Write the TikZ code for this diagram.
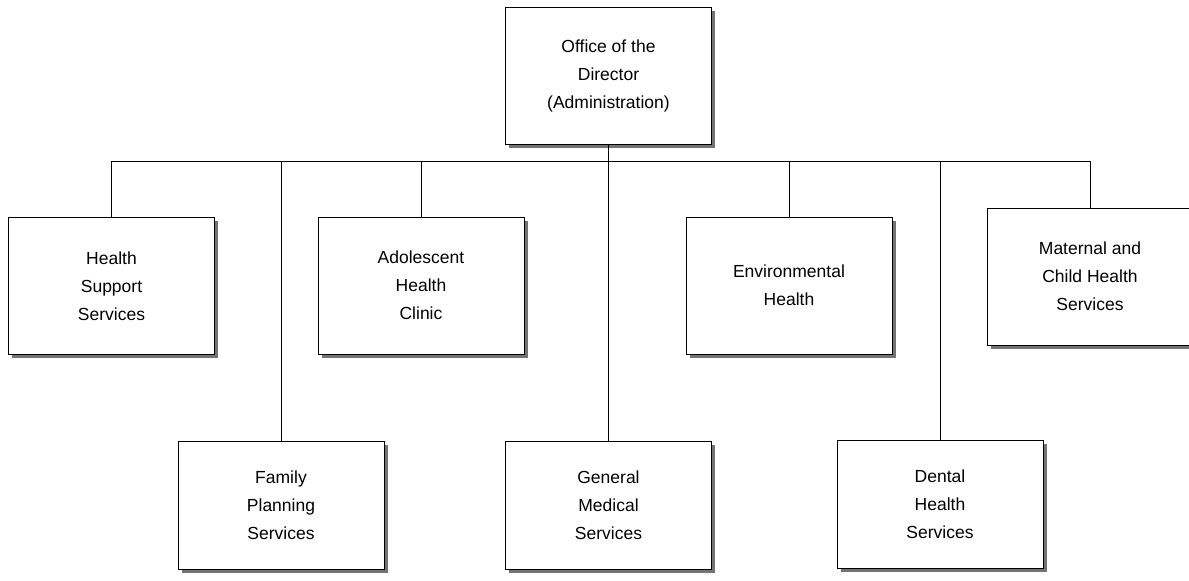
\documentclass[tikz,border=0pt]{standalone}
\usepackage{fontspec}
\setmainfont{Liberation Sans}
\usepackage{tikz}
\usetikzlibrary{positioning, shadows}
\tikzset{
    unit/.style={
        rectangle,
        draw=black,
        fill=white,
        line width=1pt,
        align=center,
        minimum width=206pt,
        minimum height=137pt,
        font=\fontsize{17.5}{28}\selectfont,
        drop shadow={shadow xshift=3.5pt, shadow yshift=-3.5pt, fill=black!55, opacity=1}
    },
    lowunit/.style={
        unit,
        minimum height=128pt
    },
    link/.style={
        line width=1pt
    }
}
\begin{document}
\begin{tikzpicture}[x=1pt, y=-1pt]

      \useasboundingbox (0,0) rectangle (1189,581);

      \coordinate (busL) at (111,161);
      \coordinate (busR) at (1090,161);

      \node[unit] (dir) at (608.5,76) {Office of the\\Director\\(Administration)};

      \node[unit] (hss) at (111.5,286) {Health\\Support\\Services};
      \node[unit] (ahc) at (421,285.5) {Adolescent\\Health\\Clinic};
      \node[unit] (env) at (789,285.5) {Environmental\\Health};
      \node[unit] (mch) at (1090,276.5) {Maternal and\\Child Health\\Services};

      \node[lowunit] (fps) at (281,505) {Family\\Planning\\Services};
      \node[lowunit] (gms) at (608.5,505) {General\\Medical\\Services};
      \node[lowunit] (dhs) at (940,504.5) {Dental\\Health\\Services};

      \draw[link] (busL) -- (busR);
      \draw[link] (dir.south) -- (dir.south |- busL);
      \foreach \u in {hss, ahc, env, mch, fps, gms, dhs}
        \draw[link] (\u.north) -- (\u.north |- busL);

    \end{tikzpicture}
\end{document}
